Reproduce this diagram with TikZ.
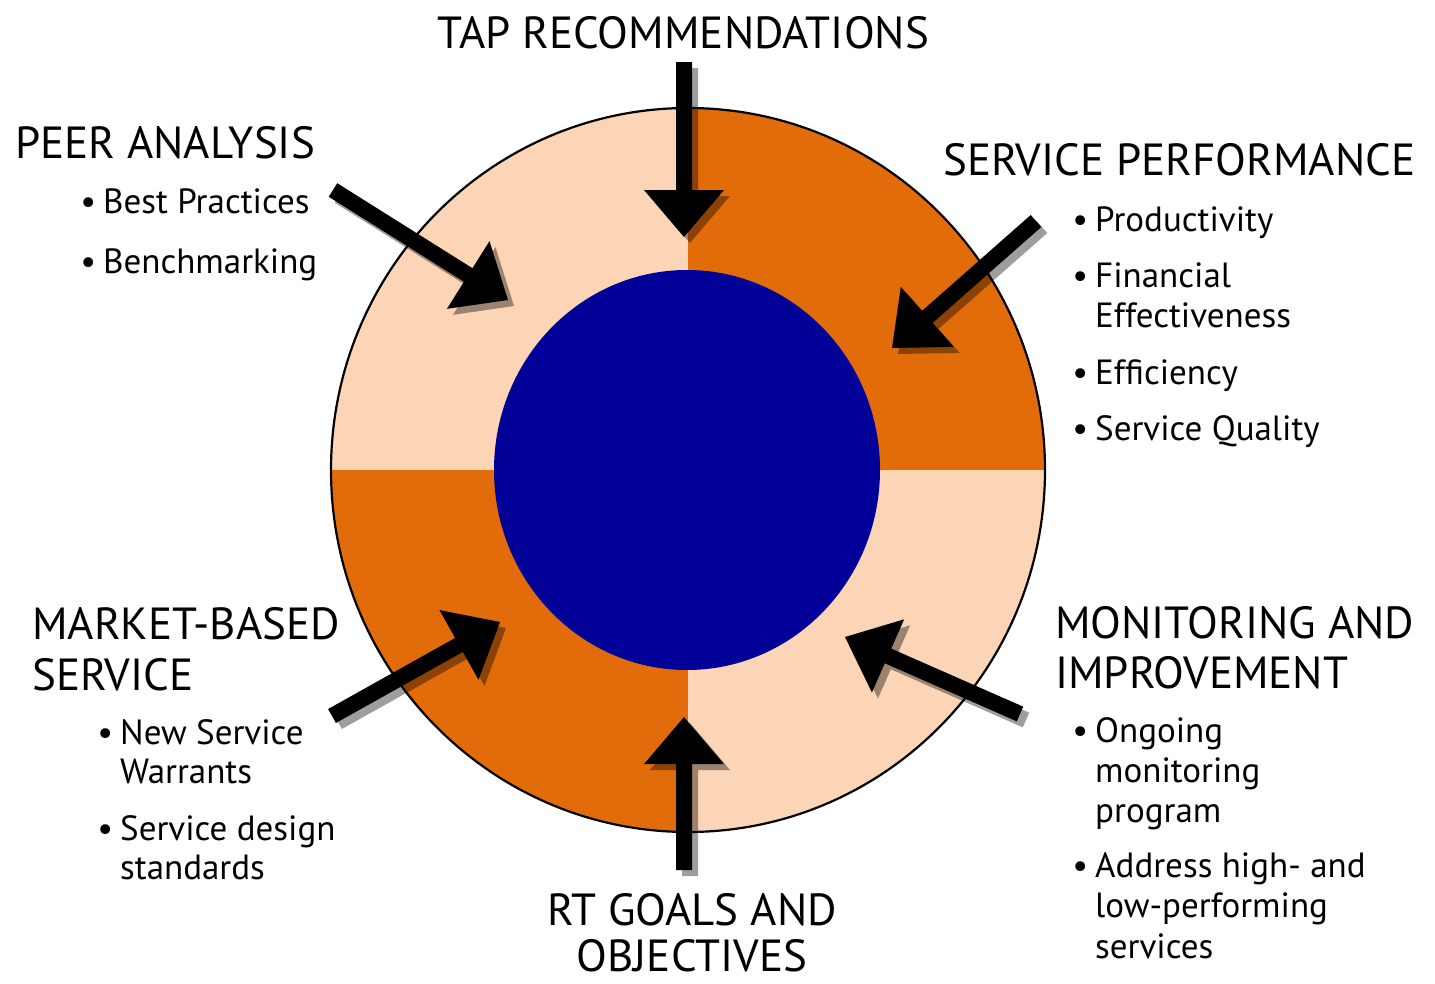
\documentclass[tikz,border=0pt]{standalone}
\usepackage{fontspec}
\setmainfont{PT Sans}
\usetikzlibrary{calc}

\definecolor{ringlight}{RGB}{251,213,181}
\definecolor{ringdark}{RGB}{227,108,10}
\definecolor{corenavy}{RGB}{0,0,153}

\tikzset{
  ttl/.style={inner sep=0pt, font=\fontsize{45}{50}\selectfont},
  itm/.style={inner sep=0pt, anchor=base west, font=\fontsize{35}{40}\selectfont},
  arrowbody/.style={fill=black},
  arrowshadow/.style={fill=black, fill opacity=0.38},
}

% bullet placed to the left of an item's first line
\newcommand\bul{\makebox[0pt][r]{\textbullet\hspace{7pt}}}

% block arrow from tail coordinate #1 to tip coordinate #2
\newcommand\arrowoutline[2]{%
  ($(#1)!8pt!90:(#2)$) -- ($(#1n)!8pt!90:(#2)$) -- ($(#1n)!40pt!90:(#2)$) --
  (#2) -- ($(#1n)!40pt!-90:(#2)$) -- ($(#1n)!8pt!-90:(#2)$) --
  ($(#1)!8pt!-90:(#2)$) -- cycle}
\newcommand\blockarrow[2]{%
  \coordinate (#1n) at ($(#2)!47pt!(#1)$);
  \fill[arrowshadow, transform canvas={shift={(6pt,-6pt)}}] \arrowoutline{#1}{#2};
  \fill[arrowbody] \arrowoutline{#1}{#2};
}

\begin{document}
\begin{tikzpicture}[x=1pt, y=-1pt]
\useasboundingbox (0,0) rectangle (1435,983);

% outer ring in four quadrants
\coordinate (ctr) at (688,470);
\begin{scope}
  \clip (ctr) ellipse [x radius=357pt, y radius=362pt];
  \fill[ringlight] (300,90) rectangle (688,470);
  \fill[ringdark]  (688,90) rectangle (1070,470);
  \fill[ringdark]  (300,470) rectangle (688,850);
  \fill[ringlight] (688,470) rectangle (1070,850);
\end{scope}
\draw[line width=2.2pt] (ctr) ellipse [x radius=357pt, y radius=362pt];

% core
\fill[corenavy] (687,470) ellipse [x radius=193pt, y radius=200pt];

% arrow ends
\coordinate (tapT) at (684,62);    \coordinate (tapH) at (684,237);
\coordinate (peerT) at (333,190);  \coordinate (peerH) at (508,300);
\coordinate (perfT) at (1036,221); \coordinate (perfH) at (892,348);
\coordinate (mktT) at (332,716);   \coordinate (mktH) at (500,622);
\coordinate (monT) at (1020,714);  \coordinate (monH) at (845,637);
\coordinate (rtT) at (684,870);    \coordinate (rtH) at (684,717);

\blockarrow{tapT}{tapH}
\blockarrow{peerT}{peerH}
\blockarrow{perfT}{perfH}
\blockarrow{mktT}{mktH}
\blockarrow{monT}{monH}
\blockarrow{rtT}{rtH}

% headings
\node[ttl, anchor=base] (tap) at (683,48) {TAP RECOMMENDATIONS};
\node[ttl, anchor=base west] (peer) at (15,158) {PEER ANALYSIS};
\node[ttl, anchor=base west] (perf) at (943,175) {SERVICE PERFORMANCE};
\node[ttl, anchor=base west] (mkt1) at (32,639) {MARKET-BASED};
\node[ttl, anchor=base west] (mkt2) at (32,690) {SERVICE};
\node[ttl, anchor=base] (rt1) at (692,925) {RT GOALS AND};
\node[ttl, anchor=base] (rt2) at (692,971) {OBJECTIVES};
\node[ttl, anchor=base west] (mon1) at (1055,638) {MONITORING AND};
\node[ttl, anchor=base west] (mon2) at (1055,688) {IMPROVEMENT};

% items
\node[itm] (peerA) at (103,213) {\bul Best Practices};
\node[itm] (peerB) at (103,273) {\bul Benchmarking};

\node[itm] (perfA) at (1095,231) {\bul Productivity};
\node[itm] (perfB1) at (1095,287) {\bul Financial};
\node[itm] (perfB2) at (1095,327) {Effectiveness};
\node[itm] (perfC) at (1095,384) {\bul Efficiency};
\node[itm] (perfD) at (1095,440) {\bul Service Quality};

\node[itm] (mktA1) at (120,744) {\bul New Service};
\node[itm] (mktA2) at (120,783) {Warrants};
\node[itm] (mktB1) at (120,840) {\bul Service design};
\node[itm] (mktB2) at (120,879) {standards};

\node[itm] (monA1) at (1095,742) {\bul Ongoing};
\node[itm] (monA2) at (1095,782) {monitoring};
\node[itm] (monA3) at (1095,822) {program};
\node[itm] (monB1) at (1095,877) {\bul Address high- and};
\node[itm] (monB2) at (1095,917) {low-performing};
\node[itm] (monB3) at (1095,958) {services};
\end{tikzpicture}
\end{document}
